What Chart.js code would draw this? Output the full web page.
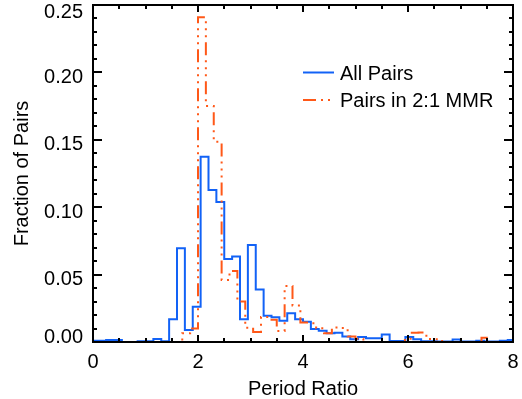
<!DOCTYPE html>
<html><head><meta charset="utf-8">
<script src="https://cdn.jsdelivr.net/npm/chart.js@4/dist/chart.umd.min.js"></script>
<style>html,body{margin:0;padding:0;background:#fff}</style>
</head><body>
<canvas id="c" width="522" height="399"></canvas>
<script>
// ---- data ----
const binWidth = 0.15;
const allPairsStart = -0.05;   // left edge of first "All Pairs" bin
const mmrStart = -0.1;         // left edge of first "2:1 MMR" bin
const allPairs = [
  0.0010,0.0010,0.0015,0.0015,0.0000,0.0000,0.0005,0.0005,0.0022,0.0005,
  0.0168,0.0695,0.0089,0.0262,0.1375,0.1128,0.1039,0.0616,0.0635,0.0168,
  0.0720,0.0390,0.0195,0.0183,0.0158,0.0213,0.0168,0.0150,0.0096,0.0084,
  0.0064,0.0069,0.0040,0.0020,0.0037,0.0027,0.0027,0.0055,0.0007,0.0007,
  0.0037,0.0020,0.0005,0.0005,0.0003,0.0003,0.0018,0.0003,0.0003,0.0010,
  0.0003,0.0003,0.0010,0.0015
];
const mmrPairs = [
  0,0,0,0,0,0,0,0,0,0,
  0,0,0.0065,0.0101,0.2410,0.1751,0.1486,0.0460,0.0527,0.0300,
  0.0106,0.0075,0.0185,0.0165,0.0082,0.0415,0.0270,0.0145,0.0140,0.0102,
  0.0065,0.0108,0.0103,0.0040,0.0025,0,0,0,0,0,
  0.0015,0.0068,0.0070,0.0022,0.0020,0,0,0,0,0,
  0.0032,0,0,0
];
const seriesLabels = ['All Pairs', 'Pairs in 2:1 MMR'];
const xRange = [0, 8];
const yRange = [0, 0.25];
const xMajorStep = 2, xMinorStep = 0.5;
const yMajorStep = 0.05, yMinorStep = 0.01;

const FONT = '"Liberation Sans", Arial, Helvetica, sans-serif';
const BLUE = 'rgb(18,98,246)';
const ORANGE = 'rgb(255,88,24)';
const DASH = [13,5,2,5,2,5,2,5];

function steps(start, vals) {
  const pts = vals.map((v, i) => ({x: start + i * binWidth, y: v}));
  pts.push({x: start + vals.length * binWidth, y: vals[vals.length - 1]});
  return pts;
}

// vertical nudge of y tick labels (as in the reference rendering)
function yLabelNudge(v) {
  if (Math.abs(v - yRange[1]) < 1e-9) return 7;
  if (Math.abs(v - yRange[0]) < 1e-9) return -5;
  return 5;
}

const frameTicks = {
  id: 'frameTicks',
  afterDraw(chart) {
    const {ctx, chartArea: a, scales: {x, y}} = chart;
    ctx.save();
    ctx.strokeStyle = '#000';
    ctx.lineWidth = 2;
    ctx.beginPath();
    const nx = Math.round((xRange[1] - xRange[0]) / xMinorStep);
    for (let i = 0; i <= nx; i++) {
      const v = xRange[0] + i * xMinorStep;
      const px = Math.round(x.getPixelForValue(v));
      const major = Math.abs(v / xMajorStep - Math.round(v / xMajorStep)) < 1e-6;
      const len = major ? 7 : 4;
      ctx.moveTo(px, a.bottom); ctx.lineTo(px, a.bottom - len);
      ctx.moveTo(px, a.top); ctx.lineTo(px, a.top + len);
    }
    const ny = Math.round((yRange[1] - yRange[0]) / yMinorStep);
    for (let i = 0; i <= ny; i++) {
      const v = yRange[0] + i * yMinorStep;
      const py = Math.round(y.getPixelForValue(v));
      const major = Math.abs(v / yMajorStep - Math.round(v / yMajorStep)) < 1e-6;
      const len = major ? 9 : 4;
      ctx.moveTo(a.left, py); ctx.lineTo(a.left + len, py);
      ctx.moveTo(a.right, py); ctx.lineTo(a.right - len, py);
    }
    ctx.stroke();
    ctx.lineWidth = 2;
    ctx.strokeRect(a.left, a.top, a.right - a.left, a.bottom - a.top);

    // legend
    const ds = chart.data.datasets;
    const lx = a.left + 210, tx = a.left + 247;
    const rows = [a.top + 67.5, a.top + 95];
    ds.forEach((d, i) => {
      ctx.strokeStyle = d.borderColor;
      ctx.lineWidth = 2;
      ctx.setLineDash(d.borderDash || []);
      ctx.beginPath();
      ctx.moveTo(lx, rows[i]); ctx.lineTo(lx + 31, rows[i]);
      ctx.stroke();
      ctx.setLineDash([]);
      ctx.fillStyle = '#000';
      ctx.font = '20px ' + FONT;
      ctx.textBaseline = 'middle';
      ctx.textAlign = 'left';
      ctx.fillText(d.label, tx, rows[i] + 1.5);
    });
    ctx.restore();
  }
};

new Chart(document.getElementById('c'), {
  type: 'line',
  data: {
    datasets: [
      {label: seriesLabels[0], data: steps(allPairsStart, allPairs), borderColor: BLUE,
       borderWidth: 2, pointRadius: 0, stepped: true, fill: false, order: 2,
       clip: {left: 0, right: 0, top: 5, bottom: 5}},
      {label: seriesLabels[1], data: steps(mmrStart, mmrPairs), borderColor: ORANGE,
       borderWidth: 2, borderDash: DASH, pointRadius: 0, stepped: true, fill: false, order: 1,
       clip: {left: 0, right: 0, top: 5, bottom: 5}}
    ]
  },
  options: {
    responsive: false,
    animation: false,
    devicePixelRatio: 1,
    layout: {padding: {top: 5, right: 9, left: 0, bottom: 0}},
    plugins: {legend: {display: false}, tooltip: {enabled: false}},
    scales: {
      x: {
        type: 'linear', min: xRange[0], max: xRange[1],
        grid: {display: false, drawTicks: false},
        border: {display: false},
        ticks: {stepSize: xMajorStep, color: '#000', font: {family: FONT, size: 20}, padding: 8, maxRotation: 0},
        title: {display: true, text: 'Period Ratio', color: '#000', font: {family: FONT, size: 20}, padding: {top: 0, bottom: -2}},
        afterFit(s) { s.height = 57; s.paddingLeft = 0; s.paddingRight = 0; }
      },
      y: {
        type: 'linear', min: yRange[0], max: yRange[1],
        grid: {display: false, drawTicks: false},
        border: {display: false},
        ticks: {stepSize: yMajorStep, color: '#000', font: {family: FONT, size: 20}, padding: 10,
                callback: v => v.toFixed(2)},
        title: {display: true, text: 'Fraction of Pairs', color: '#000', font: {family: FONT, size: 20}, padding: {top: 10, bottom: 0}},
        afterFit(s) {
          s.width = 93; s.paddingTop = 0; s.paddingBottom = 0;
          if (!s._nudged) {
            const orig = s._computeLabelItems;
            s._computeLabelItems = function (ca) {
              const items = orig.call(this, ca);
              items.forEach(it => {
                const v = parseFloat(it.label);
                if (!isNaN(v) && it.options && it.options.translation) {
                  it.options.translation[1] += yLabelNudge(v);
                }
              });
              return items;
            };
            s._nudged = true;
          }
        }
      }
    }
  },
  plugins: [frameTicks]
});
</script>
</body></html>
